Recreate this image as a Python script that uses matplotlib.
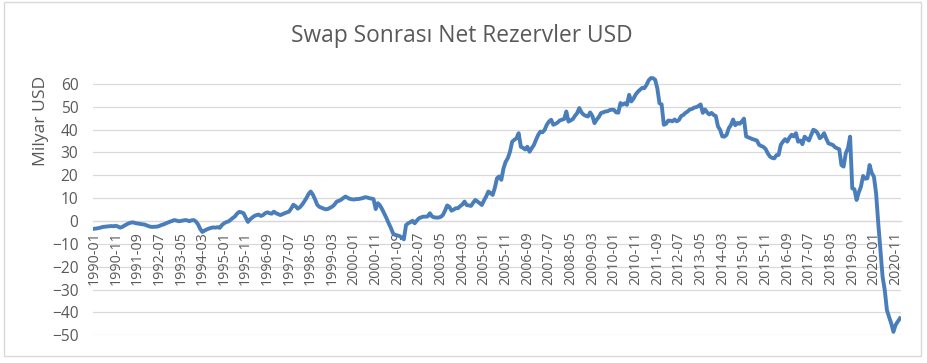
import numpy as np
import pandas as pd
import matplotlib
matplotlib.use('Agg')
import matplotlib.pyplot as plt
import matplotlib.patches as patches

plt.rcParams['font.family'] = ['Open Sans', 'DejaVu Sans']

title = 'Swap Sonrası Net Rezervler USD'
ylabel = 'Milyar USD'

# monthly values, billion USD (1990-01 .. 2021-01)
y1990 = [-3.4, -3.3, -3.1, -2.9, -2.6, -2.5, -2.4, -2.3, -2.2, -2.3, -2.1, -2.4]
y1991 = [-2.9, -2.6, -2.0, -1.5, -1.0, -0.7, -0.6, -0.9, -1.1, -1.2, -1.4, -1.5]
y1992 = [-1.8, -2.2, -2.5, -2.6, -2.5, -2.5, -2.2, -1.8, -1.5, -1.1, -0.7, -0.3]
y1993 = [0.0, 0.4, 0.2, -0.1, 0.0, 0.2, 0.4, 0.3, -0.1, 0.3, 0.4, -0.2]
y1994 = [-1.5, -3.5, -4.8, -4.2, -3.7, -3.3, -3.0, -2.8, -2.9, -2.7, -3.0, -1.8]
y1995 = [-1.0, -0.5, -0.2, 0.5, 1.3, 2.0, 3.2, 4.0, 3.8, 3.4, 1.5, -0.4]
y1996 = [0.7, 1.5, 2.2, 2.6, 2.8, 2.2, 2.6, 3.4, 3.8, 3.4, 3.2, 4.1]
y1997 = [3.4, 3.0, 2.6, 3.0, 3.4, 3.8, 4.1, 5.5, 7.1, 6.5, 5.4, 6.0]
y1998 = [7.1, 8.5, 10.0, 11.8, 12.9, 11.5, 9.5, 7.1, 6.2, 5.8, 5.4, 5.1]
y1999 = [5.3, 5.8, 6.3, 7.2, 8.5, 8.8, 9.3, 10.0, 10.7, 10.2, 9.7, 9.5]
y2000 = [9.4, 9.6, 9.6, 9.8, 10.0, 10.4, 10.3, 10.0, 9.8, 9.6, 5.2, 7.8]
y2001 = [6.8, 5.1, 3.2, 1.2, -1.0, -3.0, -5.4, -6.1, -6.3, -6.6, -7.2, -8.0]
y2002 = [-1.8, -1.0, -0.5, 0.1, -1.0, 0.2, 1.2, 1.6, 1.9, 1.9, 2.0, 3.4]
y2003 = [2.0, 1.6, 1.5, 1.5, 1.8, 2.6, 4.5, 6.8, 6.2, 4.5, 5.0, 5.6]
y2004 = [5.6, 6.5, 7.2, 8.5, 7.0, 6.8, 6.6, 8.0, 9.2, 8.5, 7.8, 7.0]
y2005 = [9.0, 10.7, 12.9, 12.2, 11.4, 14.5, 18.7, 19.5, 18.0, 23.0, 25.9, 27.5]
y2006 = [30.3, 34.7, 35.5, 36.2, 38.4, 32.5, 32.0, 31.3, 32.5, 30.3, 31.8, 33.2]
y2007 = [35.5, 37.6, 39.1, 38.8, 39.9, 42.1, 43.5, 44.3, 42.1, 42.5, 43.1, 44.0]
y2008 = [44.3, 44.6, 47.9, 43.5, 44.0, 44.6, 46.0, 47.2, 49.4, 47.5, 46.5, 46.0]
y2009 = [45.7, 47.5, 46.0, 42.8, 44.3, 45.5, 47.2, 47.5, 47.9, 48.0, 48.5, 48.7]
y2010 = [48.6, 47.5, 47.4, 51.6, 50.9, 51.5, 50.8, 55.2, 52.3, 53.5, 55.3, 56.5]
y2011 = [57.4, 58.2, 58.1, 59.5, 61.5, 62.5, 62.5, 61.8, 58.1, 51.5, 51.0, 42.1]
y2012 = [42.5, 43.9, 43.9, 43.6, 44.4, 43.6, 44.2, 45.9, 46.4, 47.3, 47.9, 48.8]
y2013 = [49.0, 49.6, 49.8, 50.3, 51.0, 47.3, 48.8, 47.5, 46.6, 47.3, 46.4, 45.9]
y2014 = [41.4, 39.9, 37.0, 36.9, 37.7, 40.6, 42.0, 44.4, 41.9, 42.9, 42.5, 43.5]
y2015 = [44.8, 37.0, 36.6, 36.2, 35.8, 35.5, 35.2, 33.3, 32.8, 32.4, 31.5, 29.6]
y2016 = [28.2, 27.6, 27.4, 28.8, 28.9, 33.3, 34.7, 35.8, 34.7, 36.5, 37.7, 37.0]
y2017 = [38.4, 34.7, 35.2, 33.6, 36.9, 36.0, 35.2, 37.5, 39.9, 39.5, 38.4, 36.2]
y2018 = [37.0, 38.4, 36.0, 34.0, 33.6, 33.3, 32.3, 31.8, 31.4, 24.5, 23.8, 29.6]
y2019 = [31.8, 36.9, 14.3, 13.9, 9.2, 12.5, 15.0, 19.7, 18.5, 18.7, 24.5, 21.0]
y2020 = [19.4, 12.1, -1.0, -12.7, -24.4, -30.2, -39.0, -42.0, -44.8, -48.5, -45.5, -44.0]
y2021 = [-42.6]

values = (y1990 + y1991 + y1992 + y1993 + y1994 + y1995 + y1996 + y1997 + y1998
          + y1999 + y2000 + y2001 + y2002 + y2003 + y2004 + y2005 + y2006 + y2007
          + y2008 + y2009 + y2010 + y2011 + y2012 + y2013 + y2014 + y2015 + y2016
          + y2017 + y2018 + y2019 + y2020 + y2021)
months = pd.period_range('1990-01', periods=len(values), freq='M').strftime('%Y-%m').tolist()
yticks = [-50, -40, -30, -20, -10, 0, 10, 20, 30, 40, 50, 60]

txt = '#595959'
grid = '#d9d9d9'
line_col = '#4a7ebb'

W, H = 928, 363
fig = plt.figure(figsize=(W / 100, H / 100), dpi=100)
ymin, ymax = -50, 64.2
bottom_px = 335.3
top_px = bottom_px - (ymax - ymin) * 2.286
ax = fig.add_axes([93 / W, 1 - bottom_px / H, 808 / W, (bottom_px - top_px) / H])

# spine position first: it resets the ticks
for s in ['top', 'right', 'left']:
    ax.spines[s].set_visible(False)
ax.spines['bottom'].set_position(('data', 0))
ax.spines['bottom'].set_color(grid)
ax.spines['bottom'].set_linewidth(0.9)

x = np.arange(len(values))
ax.plot(x, values, color=line_col, lw=2.8, solid_joinstyle='round', zorder=3)

ax.set_xlim(-0.5, len(values) - 0.5)
ax.set_ylim(ymin, ymax)
ax.set_yticks(yticks)
for v in yticks:
    ax.axhline(v, color=grid, lw=0.9, zorder=1)

ax.set_xticks(x[::10])
ax.set_xticklabels(months[::10])

ax.tick_params(axis='x', length=0, pad=7.5, labelsize=10.3, labelcolor=txt,
               labelrotation=90)
ax.tick_params(axis='y', length=0, pad=10.5, labelsize=11.2, labelcolor=txt)
for lab in ax.get_xticklabels():
    lab.set_va('top')
    lab.set_ha('center')

fig.text(41 / W, 1 - 121 / H, ylabel, rotation=90, ha='center', va='center',
         fontsize=12.6, color=txt)
fig.text(462 / W, 1 - 36 / H, title, ha='center', va='center',
         fontsize=16.4, color=txt)

fig.patches.append(patches.Rectangle((4 / W, 1 - 356 / H), 917 / W, 354 / H,
                                     transform=fig.transFigure, fill=False,
                                     edgecolor=grid, lw=1))

fig.savefig('out.png', dpi=100)
